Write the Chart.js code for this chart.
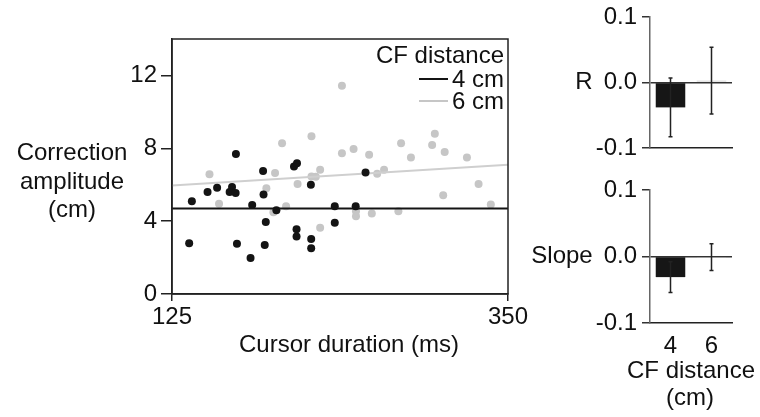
<!DOCTYPE html>
<html>
<head>
<meta charset="utf-8">
<script src="https://cdn.jsdelivr.net/npm/chart.js@4.4.1/dist/chart.umd.min.js"></script>
<style>
  body { margin: 0; background: #fff; }
  #wrap { position: relative; width: 760px; height: 417px; overflow: hidden; }
  canvas { position: absolute; }
</style>
</head>
<body>
<div id="wrap">
  <canvas id="mainChart" width="540" height="417" style="left:0;top:0"></canvas>
  <canvas id="rChart" width="240" height="170" style="left:520px;top:0"></canvas>
  <canvas id="slopeChart" width="240" height="247" style="left:520px;top:170px"></canvas>
</div>
<script>
// series names + colours
const distances = ['4 cm', '6 cm'];
const seriesColors = ['#141414', '#c6c6c6'];

// cursor duration (ms) / correction amplitude (cm), 4 cm condition
const dur4 = [136.5, 138.3, 148.8, 155.2, 165.2, 163.6, 167.6, 167.8, 168.5, 178.7, 177.6, 186.0, 186.3, 187.8,
  187.1, 194.9, 206.7, 208.7, 208.4, 208.4, 218.0, 218.2, 218.2, 234.0, 234.0, 248.0, 254.6];
const amp4 = [2.78, 5.09, 5.60, 5.84, 5.87, 5.60, 5.55, 7.69, 2.76, 4.89, 1.98, 6.75, 5.46, 3.95,
  2.69, 4.60, 7.00, 7.18, 3.55, 3.16, 6.00, 3.02, 2.51, 4.82, 3.91, 4.82, 6.67];

// 6 cm condition
const dur6 = [150.1, 156.5, 188.2, 194.0, 198.7, 192.9, 201.4, 209.1, 218.4, 218.4, 221.3, 224.2, 224.2, 238.8,
  238.8, 246.6, 248.2, 248.2, 257.0, 258.8, 262.4, 267.0, 276.6, 278.4, 285.0, 299.2, 301.0, 306.6, 307.6,
  322.5, 330.3, 338.5];
const amp6 = [6.58, 4.95, 5.80, 6.64, 8.27, 4.49, 4.82, 6.04, 8.66, 6.45, 6.44, 6.82, 3.64, 11.44,
  7.73, 7.96, 4.54, 4.27, 7.65, 4.42, 6.60, 6.82, 4.54, 8.27, 7.49, 8.18, 8.80, 5.42, 7.80,
  7.49, 6.04, 4.91];

// regression lines, value at 125 ms and at 350 ms
const fitX = [125, 350];
const fit4 = [4.69, 4.69];
const fit6 = [5.95, 7.09];

const xTicks = [125, 350];

// right panels
const cfCats = ['4', '6'];
const rMean = [-0.038, 0.003];
const rErr = [0.045, 0.051];
const slopeMean = [-0.031, -0.001];
const slopeErr = [0.023, 0.020];

const FONT = '"Liberation Sans", Arial, Helvetica, sans-serif';
const INK = '#111';

function pts(xs, ys) { return xs.map((x, i) => ({ x: x, y: ys[i] })); }

// free text (horizontal axis titles etc)
const textPlugin = {
  id: 'extraText',
  afterDraw(chart, args, opts) {
    const ctx = chart.ctx;
    ctx.save();
    ctx.fillStyle = INK;
    ctx.font = '24px ' + FONT;
    ctx.textBaseline = 'middle';
    (opts.items || []).forEach(t => {
      ctx.textAlign = t.align || 'center';
      ctx.fillText(t.text, t.x, typeof t.y === 'function' ? t.y(chart) : t.y);
    });
    ctx.restore();
  }
};

// box round the scatter plot + legend
const boxLegend = {
  id: 'boxLegend',
  afterDraw(chart) {
    const a = chart.chartArea, ctx = chart.ctx;
    ctx.save();
    ctx.strokeStyle = '#222';
    ctx.lineWidth = 1.5;
    ctx.strokeRect(a.left, a.top, a.right - a.left, a.bottom - a.top);
    ctx.font = '24px ' + FONT;
    ctx.fillStyle = INK;
    ctx.textAlign = 'right';
    ctx.textBaseline = 'middle';
    const rx = a.right - 4;
    ctx.fillText('CF distance', rx, a.top + 17);
    distances.forEach((d, i) => {
      const y = a.top + 41 + i * 22;
      ctx.fillStyle = INK;
      ctx.fillText(d, rx, y);
      const w = ctx.measureText(d).width;
      ctx.strokeStyle = seriesColors[i];
      ctx.lineWidth = 2;
      ctx.beginPath();
      ctx.moveTo(rx - w - 33, y - 1);
      ctx.lineTo(rx - w - 4, y - 1);
      ctx.stroke();
    });
    ctx.restore();
  }
};

new Chart(document.getElementById('mainChart'), {
  type: 'scatter',
  data: {
    datasets: [
      { type: 'line', data: pts(fitX, fit4), borderColor: seriesColors[0], borderWidth: 2, pointRadius: 0, order: 0 },
      { data: pts(dur4, amp4), backgroundColor: seriesColors[0], pointRadius: 4, borderWidth: 0, order: 1 },
      { type: 'line', data: pts(fitX, fit6), borderColor: '#cfcfcf', borderWidth: 2, pointRadius: 0, order: 2 },
      { data: pts(dur6, amp6), backgroundColor: seriesColors[1], pointRadius: 4, borderWidth: 0, order: 3 }
    ]
  },
  options: {
    responsive: false,
    animation: false,
    devicePixelRatio: 1,
    layout: { padding: { top: 39, right: 32, left: 0, bottom: 0 } },
    plugins: {
      legend: { display: false },
      tooltip: { enabled: false },
      extraText: {
        items: [
          { text: 'Correction', x: 72, y: 153 },
          { text: 'amplitude', x: 72, y: 182 },
          { text: '(cm)', x: 72, y: 210 },
          { text: 'Cursor duration (ms)', x: 349, y: 345 }
        ]
      }
    },
    scales: {
      x: {
        type: 'linear', min: 125, max: 350,
        afterBuildTicks: s => { s.ticks = xTicks.map(v => ({ value: v })); },
        afterFit: s => { s.height = 123; },
        grid: { drawOnChartArea: false, tickLength: 7, color: '#222', lineWidth: 1.5 },
        border: { color: '#222', width: 1.5 },
        ticks: { font: { family: FONT, size: 24 }, color: INK, padding: 2, maxRotation: 0, autoSkip: false }
      },
      y: {
        min: 0, max: 14,
        afterFit: s => { s.width = 172; },
        grid: { drawOnChartArea: false, tickLength: 11, color: '#222', lineWidth: 1.5 },
        border: { color: '#222', width: 1.5 },
        ticks: { stepSize: 4, includeBounds: false, font: { family: FONT, size: 24 }, color: INK, padding: 4 }
      }
    }
  },
  plugins: [textPlugin, boxLegend]
});

// error bars on the bar panels
const errorBars = {
  id: 'errorBars',
  afterDatasetsDraw(chart, args, opts) {
    const ctx = chart.ctx, ys = chart.scales.y;
    const meta = chart.getDatasetMeta(0);
    const vals = chart.data.datasets[0].data;
    ctx.save();
    ctx.strokeStyle = '#222';
    ctx.lineWidth = 1.5;
    meta.data.forEach((bar, i) => {
      const hi = ys.getPixelForValue(vals[i] + opts.err[i]);
      const lo = ys.getPixelForValue(vals[i] - opts.err[i]);
      ctx.beginPath();
      ctx.moveTo(bar.x, hi); ctx.lineTo(bar.x, lo);
      ctx.moveTo(bar.x - 2, hi); ctx.lineTo(bar.x + 2, hi);
      ctx.moveTo(bar.x - 2, lo); ctx.lineTo(bar.x + 2, lo);
      ctx.stroke();
    });
    ctx.restore();
  }
};

function barPanel(id, values, errs, label, labelX, padTop, xHeight, showX, extra) {
  return new Chart(document.getElementById(id), {
    type: 'bar',
    data: {
      labels: cfCats,
      datasets: [{ data: values, backgroundColor: ['#161616', '#dedede'], categoryPercentage: 0.8, barPercentage: 0.9 }]
    },
    options: {
      responsive: false,
      animation: false,
      devicePixelRatio: 1,
      layout: { padding: { top: padTop, right: 28, left: 0, bottom: 0 } },
      plugins: {
        legend: { display: false },
        tooltip: { enabled: false },
        errorBars: { err: errs },
        extraText: {
          items: [{ text: label, x: labelX, y: c => c.scales.y.getPixelForValue(0) }].concat(extra || [])
        }
      },
      scales: {
        x: {
          afterFit: s => { s.height = xHeight; },
          grid: { display: false },
          border: { color: '#222', width: 1.5 },
          ticks: { display: showX, font: { family: FONT, size: 24 }, color: INK, padding: 1 }
        },
        y: {
          min: -0.1, max: 0.1,
          afterFit: s => { s.width = 130; },
          grid: {
            color: c => (c.tick && c.tick.value === 0 ? '#333' : 'rgba(0,0,0,0)'),
            tickColor: '#333', tickLength: 8, lineWidth: 1.5
          },
          border: { color: '#666', width: 1.5 },
          ticks: {
            stepSize: 0.1, font: { family: FONT, size: 24, lineHeight: 1 }, color: INK, padding: 5,
            callback: v => (Math.abs(v) < 1e-9 ? 0 : v).toFixed(1)
          }
        }
      }
    },
    plugins: [errorBars, textPlugin]
  });
}

barPanel('rChart', rMean, rErr, 'R', 64, 12, 22, false);
barPanel('slopeChart', slopeMean, slopeErr, 'Slope', 42, 20, 94, true, [
  { text: 'CF distance', x: 171, y: 201 },
  { text: '(cm)', x: 170, y: 228 }
]);
</script>
</body>
</html>
